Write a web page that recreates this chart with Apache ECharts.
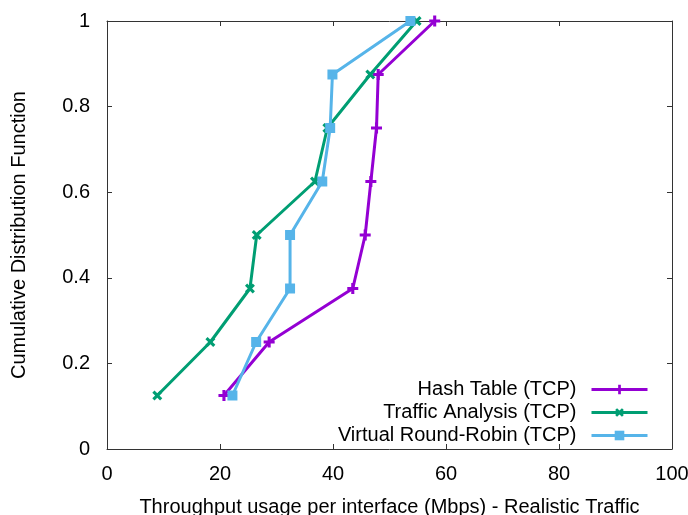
<!DOCTYPE html>
<html>
<head>
<meta charset="utf-8">
<script src="https://cdn.jsdelivr.net/npm/echarts@6/dist/echarts.min.js"></script>
<style>
  html, body { margin: 0; padding: 0; background: #fff; }
  #chart { width: 688px; height: 515px; }
</style>
</head>
<body>
<div id="chart"></div>
<script>
  // CDF levels (shared by all series)
  var cdfLevels = [0.125, 0.25, 0.375, 0.5, 0.625, 0.75, 0.875, 1];
  // throughput (Mbps)
  var hashTableX = [20.7, 28.7, 43.5, 45.7, 46.7, 47.7, 48.0, 58.0];
  var trafficAnalysisX = [8.9, 18.3, 25.3, 26.5, 36.8, 39.0, 46.6, 54.8];
  var roundRobinX = [22.2, 26.4, 32.4, 32.4, 38.1, 39.5, 39.9, 53.7];
  var seriesNames = ["Hash Table (TCP)", "Traffic Analysis (TCP)", "Virtual Round-Robin (TCP)"];

  var plusPath = "path://M3.6,0H6.4V3.6H10V6.4H6.4V10H3.6V6.4H0V3.6H3.6Z";
  var font = "'Liberation Sans', Arial, sans-serif";

  function pairs(xs) {
    return xs.map(function (x, i) { return [x, cdfLevels[i]]; });
  }

  function makeSeries(name, xs, color, symbol, size, rotate) {
    return {
      name: name,
      type: "line",
      data: pairs(xs),
      symbol: symbol,
      symbolSize: size,
      symbolRotate: rotate || 0,
      showSymbol: true,
      lineStyle: { color: color, width: 3 },
      itemStyle: { color: color, borderWidth: 0 },
      emphasis: { disabled: true }
    };
  }

  var axisLineStyle = { color: "#333", width: 1 };

  function frameAxis(extra) {
    var base = {
      type: "value",
      axisLine: { show: true, onZero: false, lineStyle: axisLineStyle },
      axisTick: { show: true, inside: true, length: 5, lineStyle: axisLineStyle },
      axisLabel: { show: false },
      splitLine: { show: false }
    };
    return Object.assign(base, extra);
  }

  var chart = echarts.init(document.getElementById("chart"));
  chart.setOption({
    animation: false,
    textStyle: { fontFamily: font },
    grid: { left: 107, right: 16, top: 21, bottom: 66, containLabel: false, outerBoundsMode: "none" },
    legend: {
      data: seriesNames,
      orient: "vertical",
      right: 39,
      top: 379,
      padding: 0,
      itemGap: 2,
      itemWidth: 56,
      itemHeight: 12,
      align: "right",
      lineStyle: { width: 3 },
      textStyle: { fontSize: 20, color: "#000", fontFamily: font, padding: [0, 10, 0, 0], lineHeight: 21 }
    },
    xAxis: [
      frameAxis({
        min: 0, max: 100, interval: 20,
        position: "bottom",
        name: "Throughput usage per interface (Mbps) - Realistic Traffic",
        nameLocation: "middle",
        nameGap: 48,
        nameTextStyle: { fontSize: 20, color: "#000", fontFamily: font },
        axisLabel: { show: true, fontSize: 20, color: "#000", margin: 15, fontFamily: font }
      }),
      frameAxis({ min: 0, max: 100, interval: 20, position: "top" })
    ],
    yAxis: [
      frameAxis({
        min: 0, max: 1, interval: 0.2,
        position: "left",
        name: "Cumulative Distribution Function",
        nameLocation: "middle",
        nameGap: 78,
        nameTextStyle: { fontSize: 20, color: "#000", fontFamily: font },
        axisLabel: { show: true, fontSize: 20, color: "#000", margin: 17, fontFamily: font }
      }),
      frameAxis({ min: 0, max: 1, interval: 0.2, position: "right" })
    ],
    series: [
      makeSeries(seriesNames[0], hashTableX, "#9400D3", plusPath, 11),
      makeSeries(seriesNames[1], trafficAnalysisX, "#009E73", plusPath, 11, 45),
      makeSeries(seriesNames[2], roundRobinX, "#56B4E9", "rect", 10)
    ]
  });
</script>
</body>
</html>
